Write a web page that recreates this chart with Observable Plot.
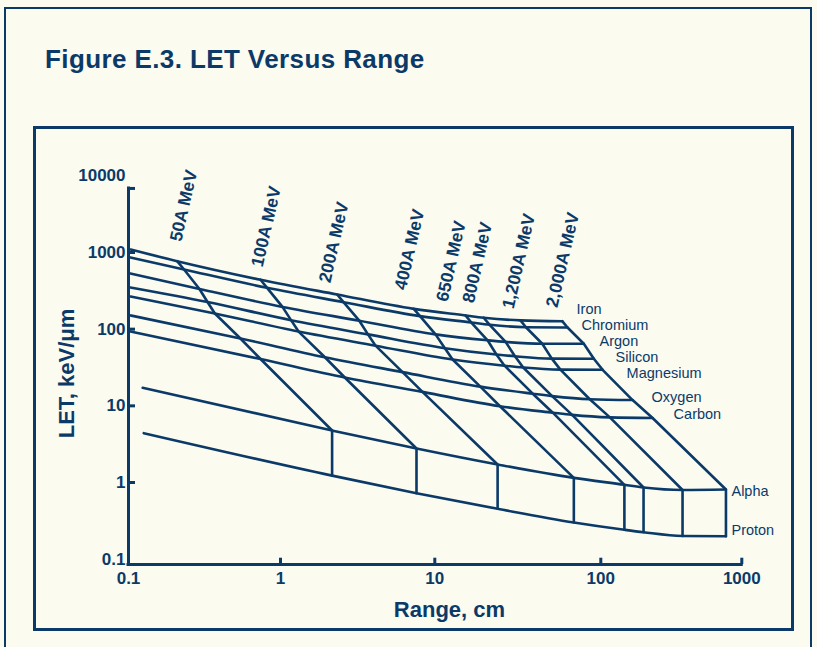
<!DOCTYPE html>
<html>
<head>
<meta charset="utf-8">
<script src="https://cdn.jsdelivr.net/npm/d3@7"></script>
<script src="https://cdn.jsdelivr.net/npm/@observablehq/plot@0.6"></script>
<style>
  html, body { margin: 0; padding: 0; background: #fbfbf0; }
  body { width: 817px; height: 647px; position: relative; overflow: hidden; font-family: "Liberation Sans", Arial, sans-serif; }
  #outer { position: absolute; left: 4px; top: 7px; width: 808px; height: 660px; border: 2px solid #0b3a68; box-sizing: border-box; }
  #box { position: absolute; left: 33px; top: 126px; width: 761px; height: 505px; border: 3px solid #0b3a68; box-sizing: border-box; }
  #title { position: absolute; left: 45px; top: 44px; font-size: 26px; line-height: 30px; font-weight: bold; color: #0b3a68; white-space: nowrap; letter-spacing: 0.4px; }
  #chart { position: absolute; left: 0; top: 0; }
</style>
</head>
<body>
<div id="outer"></div>
<div id="box"></div>
<div id="title">Figure E.3. LET Versus Range</div>
<div id="chart"></div>
<script>
// ---- data ----
const ions = ["Iron", "Chromium", "Argon", "Silicon", "Magnesium", "Oxygen", "Carbon", "Alpha", "Proton"];
const energies = ["50A MeV", "100A MeV", "200A MeV", "400A MeV", "650A MeV", "800A MeV", "1,200A MeV", "2,000A MeV"];

// left-hand start of every ion curve (range cm, LET keV/um)
const startRange = [0.103, 0.103, 0.103, 0.103, 0.103, 0.103, 0.103, 0.124, 0.126];
const startLET = [1094, 861, 532, 350, 267, 151, 93.2, 17.2, 4.40];

// range (cm) and LET at each energy, per ion
const rangeIron      = [0.209, 0.739, 2.33, 7.31, 15.3, 19.7, 32.8, 58.6];
const letIron        = [770, 441, 283, 184, 151, 141, 130, 127];
const rangeChromium  = [0.232, 0.816, 2.56, 8.02, 16.6, 21.4, 35.4, 63.0];
const letChromium    = [600, 346, 225, 148, 122, 114, 106, 105];
const rangeArgon     = [0.293, 1.03, 3.24, 10.1, 20.8, 26.7, 44.4, 79.0];
const letArgon       = [334, 195, 129, 85.5, 71.6, 68.2, 64.5, 64.5];
const rangeSilicon   = [0.331, 1.17, 3.69, 11.5, 23.5, 30.4, 50.7, 90.8];
const letSilicon     = [226, 131, 85.5, 56.5, 46.7, 44.3, 41.3, 41.1];
const rangeMagnesium = [0.370, 1.31, 4.13, 12.8, 26.3, 34.1, 57.1, 103];
const letMagnesium   = [160, 93.0, 60.9, 40.2, 33.4, 31.6, 29.7, 29.5];
const rangeOxygen    = [0.545, 1.94, 6.18, 18.8, 38.9, 50.9, 85.8, 168];
const letOxygen      = [75.6, 43.0, 27.5, 17.8, 14.4, 13.4, 12.2, 11.9];
const rangeCarbon    = [0.739, 2.61, 8.32, 24.7, 51.4, 67.2, 116, 233];
const letCarbon      = [40.8, 23.4, 15.2, 9.89, 8.14, 7.62, 7.07, 6.94];
const rangeAlpha     = [2.16, 7.61, 23.9, 68.8, 147, 201, 380, 772];
const letAlpha       = [4.77, 2.78, 1.72, 1.15, 0.934, 0.861, 0.799, 0.811];
const rangeProton    = [2.16, 7.61, 23.9, 68.8, 147, 201, 380, 772];
const letProton      = [1.23, 0.725, 0.454, 0.301, 0.242, 0.225, 0.201, 0.199];

const xTicks = [0.1, 1, 10, 100, 1000];
const xTickLabels = ["0.1", "1", "10", "100", "1000"];
const yTicks = [0.1, 1, 10, 100, 1000, 10000];
const yTickLabels = ["0.1", "1", "10", "100", "1000", "10000"];
const xTitle = "Range, cm";
const yTitle = "LET, keV/\u03bcm";

// ---- layout (not data) ----
const navy = "#0b3a68";
const energyLabelOffsets = [[4, -19], [2, -12], [-7, -11], [-8, -18], [-18, -13], [-10, -14], [-7, -11], [-5, -13]];
const ionLabelOffsets = [[14.3, -12.2], [14, -2.3], [15.7, -2.4], [21.7, -1.2], [24, 4.0], [19, -2.5], [21, -3.5], [5.5, 2], [5.5, -5.7]];
const axisBottomLET = 0.0852, axisTopLET = 6840, yTickEnd = 0.1112, xTickEnd = 0.103;

// ---- build tables ----
const ionRanges = [rangeIron, rangeChromium, rangeArgon, rangeSilicon, rangeMagnesium, rangeOxygen, rangeCarbon, rangeAlpha, rangeProton];
const ionLETs = [letIron, letChromium, letArgon, letSilicon, letMagnesium, letOxygen, letCarbon, letAlpha, letProton];

const ionLines = ions.flatMap((ion, i) => [
  {ion, x: startRange[i], y: startLET[i]},
  ...ionRanges[i].map((r, k) => ({ion, x: r, y: ionLETs[i][k]}))
]);
const energyLines = energies.flatMap((energy, k) =>
  ions.map((ion, i) => ({energy, ion, x: ionRanges[i][k], y: ionLETs[i][k]}))
);

const energyLabelMarks = energies.map((e, k) =>
  Plot.text([{e, x: rangeIron[k], y: letIron[k]}], {
    x: "x", y: "y", text: "e", rotate: -77, textAnchor: "start", lineAnchor: "bottom",
    dx: energyLabelOffsets[k][0], dy: energyLabelOffsets[k][1],
    fontSize: 17.5, fontWeight: "bold", fill: navy
  })
);
const ionLabelMarks = ions.map((ion, i) => {
  const n = ionRanges[i].length - 1;
  return Plot.text([{ion, x: ionRanges[i][n], y: ionLETs[i][n]}], {
    x: "x", y: "y", text: "ion", textAnchor: "start", lineAnchor: "middle",
    dx: ionLabelOffsets[i][0], dy: ionLabelOffsets[i][1],
    fontSize: 14.5, fontWeight: "normal", fill: navy
  });
});

const chart = Plot.plot({
  width: 817,
  height: 647,
  marginLeft: 128,
  marginRight: 75.7,
  marginTop: 175.3,
  marginBottom: 88.3,
  x: {type: "log", domain: xTicks, range: [128, 280, 434.3, 600.3, 741.3]},
  y: {type: "log", domain: [0.1, 10000], range: [558.7, 175.3]},
  style: {
    background: "transparent",
    overflow: "visible",
    color: navy,
    fontFamily: "'Liberation Sans', Arial, sans-serif",
    fontSize: "17px",
    fontWeight: "bold"
  },
  marks: [
    // axes
    Plot.ruleY([axisBottomLET], {x1: 0.1, x2: 1000, stroke: navy, strokeWidth: 3, strokeLinecap: "square"}),
    Plot.ruleX([0.1], {y1: axisBottomLET, y2: axisTopLET, stroke: navy, strokeWidth: 3, strokeLinecap: "square"}),
    Plot.ruleY([1, 10, 100, 1000, axisTopLET], {x1: 0.1, x2: yTickEnd, stroke: navy, strokeWidth: 3}),
    Plot.ruleX([1, 10, 100, 1000], {y1: axisBottomLET, y2: xTickEnd, stroke: navy, strokeWidth: 3}),
    Plot.axisX({ticks: xTicks, tickFormat: d => xTickLabels[xTicks.indexOf(d)], tickSize: 0, tickPadding: 12.5, label: null, fill: navy, fontSize: 17, fontWeight: "bold"}),
    Plot.axisY({ticks: yTicks, tickFormat: d => yTickLabels[yTicks.indexOf(d)], tickSize: 0, tickPadding: 3, label: null, fill: navy, fontSize: 17, fontWeight: "bold"}),
    Plot.text([xTitle], {frameAnchor: "bottom", text: d => d, dx: 14.3, dy: 50.5, textAnchor: "middle", lineAnchor: "middle", fontSize: 22, fontWeight: "bold", fill: navy}),
    Plot.text([yTitle], {frameAnchor: "left", text: d => d, rotate: -90, dx: -61.5, dy: 6, textAnchor: "middle", lineAnchor: "middle", fontSize: 22, fontWeight: "bold", fill: navy}),
    // curves
    Plot.line(ionLines, {x: "x", y: "y", z: "ion", curve: "monotone-x", stroke: navy, strokeWidth: 2.6}),
    Plot.line(energyLines, {x: "x", y: "y", z: "energy", stroke: navy, strokeWidth: 2.6, strokeLinejoin: "round"}),
    ...energyLabelMarks,
    ...ionLabelMarks
  ]
});
document.getElementById("chart").appendChild(chart);
</script>
</body>
</html>
